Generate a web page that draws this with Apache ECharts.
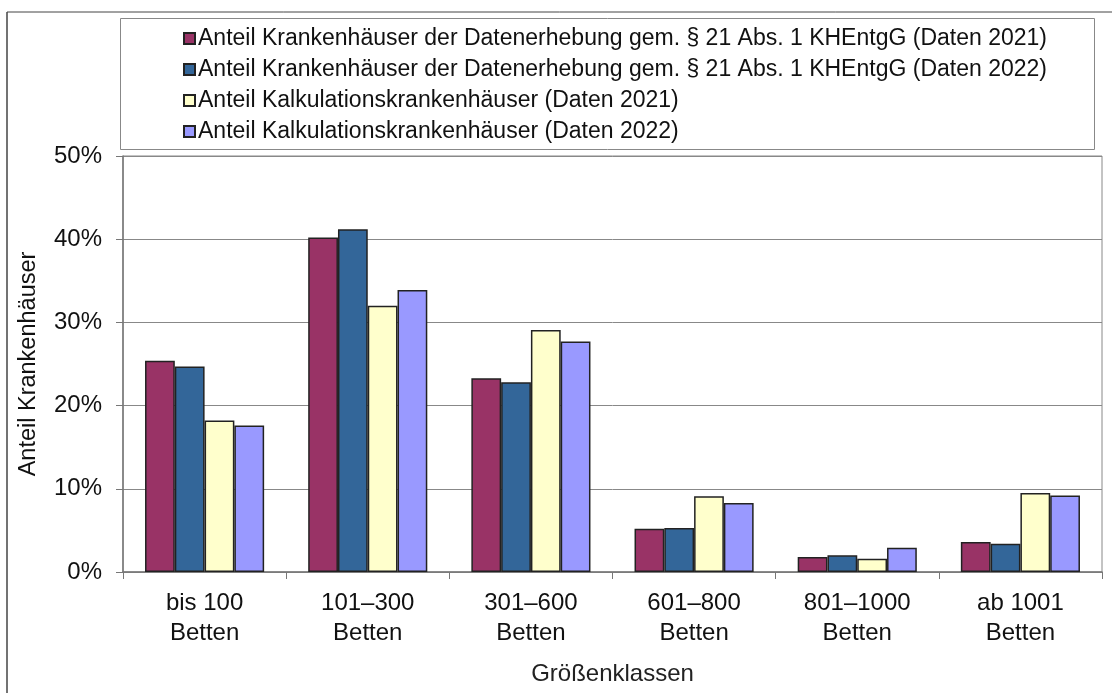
<!DOCTYPE html>
<html>
<head>
<meta charset="utf-8">
<script src="https://cdn.jsdelivr.net/npm/echarts@6/dist/echarts.min.js"></script>
<style>
  html, body { margin: 0; padding: 0; background: #fff; }
  #chart { width: 1112px; height: 693px; }
</style>
</head>
<body>
<div id="chart"></div>
<script>
// Größenklassen (x-Achse)
const categories = ['bis 100\nBetten', '101–300\nBetten', '301–600\nBetten', '601–800\nBetten', '801–1000\nBetten', 'ab 1001\nBetten'];

const seriesNames = [
  'Anteil Krankenhäuser der Datenerhebung gem. § 21 Abs. 1 KHEntgG (Daten 2021)',
  'Anteil Krankenhäuser der Datenerhebung gem. § 21 Abs. 1 KHEntgG (Daten 2022)',
  'Anteil Kalkulationskrankenhäuser (Daten 2021)',
  'Anteil Kalkulationskrankenhäuser (Daten 2022)'
];

// Werte in Prozent
const datenerhebung2021 = [25.4, 40.2, 23.3, 5.2, 1.8, 3.6];
const datenerhebung2022 = [24.7, 41.2, 22.8, 5.3, 2.0, 3.4];
const kalkulation2021 = [18.2, 32.0, 29.1, 9.1, 1.6, 9.5];
const kalkulation2022 = [17.6, 33.9, 27.7, 8.3, 2.9, 9.2];

const colors = ['#993366', '#336699', '#ffffcc', '#9999ff'];

const chart = echarts.init(document.getElementById('chart'), null, { renderer: 'canvas' });

const font = 'Liberation Sans, Arial, sans-serif';

function bar(name, data, i) {
  return {
    name: name,
    type: 'bar',
    data: data,
    barGap: 0,
    barCategoryGap: '27%',
    itemStyle: {
      color: colors[i],
      borderColor: '#222',
      borderWidth: 1.5
    },
    emphasis: { disabled: true }
  };
}

const option = {
  backgroundColor: '#ffffff',
  animation: false,
  textStyle: { fontFamily: font },
  graphic: [
    // äußerer Rahmen (oben + links)
    { type: 'line', shape: { x1: 7, y1: 12, x2: 1112, y2: 12 }, style: { stroke: '#444', lineWidth: 1 } },
    { type: 'line', shape: { x1: 7, y1: 12, x2: 7, y2: 693 }, style: { stroke: '#444', lineWidth: 1.5 } },
    // Legendenrahmen
    { type: 'rect', shape: { x: 120.5, y: 18.5, width: 974, height: 131 }, style: { fill: 'none', stroke: '#888', lineWidth: 1 }, z: 0 }
  ],
  legend: {
    orient: 'vertical',
    left: 178,
    top: 22,
    itemWidth: 11,
    itemHeight: 11,
    itemGap: 8,
    icon: 'rect',
    textStyle: { fontSize: 23, color: '#111', fontFamily: font, padding: [0, 0, 0, -2] },
    data: seriesNames
  },
  grid: {
    left: 123,
    right: 10,
    top: 156,
    bottom: 121,
    show: true,
    borderColor: '#888',
    borderWidth: 1,
    outerBoundsMode: 'none'
  },
  xAxis: {
    type: 'category',
    data: categories,
    name: 'Größenklassen',
    nameLocation: 'middle',
    nameGap: 90,
    nameTextStyle: { fontSize: 24, color: '#222' },
    axisLine: { lineStyle: { color: '#777', width: 1.5 } },
    axisTick: { show: true, length: 7, lineStyle: { color: '#777' } },
    axisLabel: { fontSize: 24, color: '#111', lineHeight: 30, margin: 16 }
  },
  yAxis: {
    type: 'value',
    min: 0,
    max: 50,
    interval: 10,
    name: 'Anteil Krankenhäuser',
    nameLocation: 'middle',
    nameGap: 82,
    nameTextStyle: { fontSize: 23.5, color: '#111' },
    axisLine: { show: true, lineStyle: { color: '#777', width: 1.5 } },
    axisTick: { show: true, length: 7, lineStyle: { color: '#777' } },
    axisLabel: { fontSize: 24, color: '#111', margin: 21, formatter: '{value}%' },
    splitLine: { lineStyle: { color: '#888', width: 1 } }
  },
  series: [
    bar(seriesNames[0], datenerhebung2021, 0),
    bar(seriesNames[1], datenerhebung2022, 1),
    bar(seriesNames[2], kalkulation2021, 2),
    bar(seriesNames[3], kalkulation2022, 3)
  ]
};

chart.setOption(option);
</script>
</body>
</html>
